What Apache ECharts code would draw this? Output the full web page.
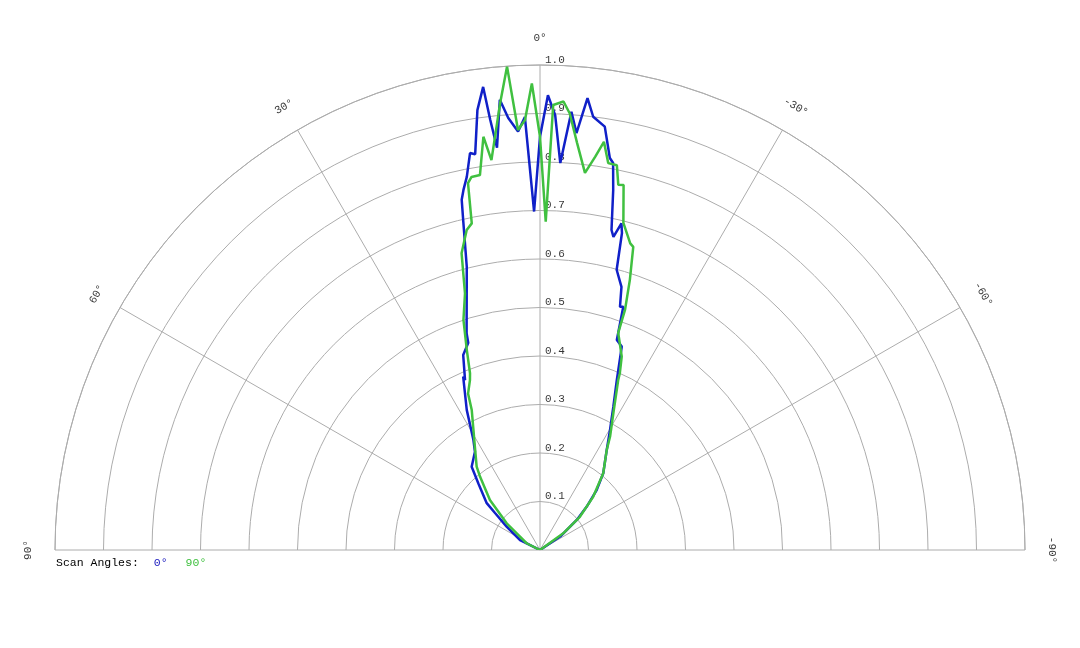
<!DOCTYPE html>
<html>
<head>
<meta charset="utf-8">
<script src="https://cdn.jsdelivr.net/npm/echarts@6/dist/echarts.min.js"></script>
<style>
  html, body { margin: 0; padding: 0; background: #fff; }
  #main { width: 1080px; height: 648px; }
</style>
</head>
<body>
<div id="main"></div>
<script>
// scan angle 0 (blue): angle in degrees (90 = left, -90 = right), relative value
var blueAngles = [90, 63.4, 55.0, 50.6, 48.6, 42.8, 39.4, 33.5, 31.2, 27.6, 23.9, 23.8, 21.5, 19.1, 18.7, 14.5, 13.1, 12.6, 12.0, 11.1, 10.0, 9.3, 8.1, 7.0, 6.6, 6.1, 5.1, 4.2, 3.0, 2.0, 1.0, 0, -1.0, -2.0, -3.0, -4.1, -5.0, -6.0, -7.0, -8.7, -10.1, -10.7, -11.5, -12.6, -13.2, -14.0, -14.5, -15.3, -17.2, -18.2, -18.9, -20.1, -21.9, -24.3, -27.1, -30.3, -33.7, -39.5, -43.4, -47.2, -50.7, -56.4, -90];
var blueR = [0, 0.046, 0.084, 0.120, 0.147, 0.187, 0.222, 0.243, 0.265, 0.326, 0.391, 0.383, 0.432, 0.452, 0.472, 0.603, 0.699, 0.740, 0.759, 0.784, 0.831, 0.827, 0.916, 0.962, 0.893, 0.834, 0.932, 0.893, 0.864, 0.893, 0.698, 0.852, 0.938, 0.897, 0.799, 0.906, 0.863, 0.937, 0.900, 0.883, 0.821, 0.812, 0.757, 0.676, 0.663, 0.694, 0.675, 0.599, 0.568, 0.528, 0.530, 0.461, 0.452, 0.385, 0.332, 0.286, 0.248, 0.205, 0.170, 0.131, 0.098, 0.050, 0];

// scan angle 90 (green)
var greenAngles = [90, 63.3, 51.3, 45.0, 39.3, 37.2, 32.2, 26.0, 24.7, 22.4, 21.6, 20.1, 18.4, 16.3, 14.8, 12.9, 11.8, 11.1, 10.4, 9.1, 7.8, 7.1, 5.1, 3.9, 3.0, 2.0, 1.0, 0, -1.0, -1.7, -3.0, -3.9, -5.2, -6.8, -8.0, -8.9, -10.0, -11.3, -12.1, -12.9, -14.3, -16.4, -17.1, -18.4, -19.5, -19.8, -22.9, -24.3, -24.7, -28.2, -31.7, -33.7, -39.5, -45.0, -50.2, -54.4, -90];
var greenR = [0, 0.031, 0.088, 0.146, 0.195, 0.216, 0.252, 0.321, 0.355, 0.379, 0.392, 0.439, 0.500, 0.551, 0.633, 0.677, 0.688, 0.771, 0.782, 0.783, 0.860, 0.810, 0.925, 0.999, 0.867, 0.887, 0.962, 0.852, 0.677, 0.918, 0.926, 0.902, 0.843, 0.783, 0.819, 0.852, 0.810, 0.809, 0.770, 0.772, 0.696, 0.659, 0.654, 0.587, 0.525, 0.476, 0.433, 0.400, 0.386, 0.320, 0.275, 0.248, 0.205, 0.155, 0.107, 0.059, 0];

var angleTicks = [90, 60, 30, 0, -30, -60, -90];
var radiusTicks = [0.1, 0.2, 0.3, 0.4, 0.5, 0.6, 0.7, 0.8, 0.9, 1.0];

var FONT = '"Liberation Mono", "DejaVu Sans Mono", monospace';
var GRID = '#acacac';

function pairs(angles, rs) {
    var out = [];
    for (var i = 0; i < angles.length; i++) out.push([rs[i], angles[i]]);
    return out;
}

var myChart = echarts.init(document.getElementById('main'));

option = {
    animation: false,
    title: {
        left: 56,
        top: 557,
        padding: 0,
        text: '{a|Scan Angles:}{b|0°}{c|90°}',
        textStyle: {
            fontFamily: FONT,
            fontSize: 11.5,
            fontWeight: 'normal',
            rich: {
                a: { fontFamily: FONT, fontSize: 11.5, color: '#000' },
                b: { fontFamily: FONT, fontSize: 11.5, color: '#2020c0', padding: [0, 0, 0, 15] },
                c: { fontFamily: FONT, fontSize: 11.5, color: '#40c040', padding: [0, 0, 0, 18] }
            }
        }
    },
    polar: {
        center: [540, 550],
        radius: 485
    },
    angleAxis: {
        type: 'value',
        min: -90,
        max: 90,
        interval: 30,
        startAngle: 0,
        endAngle: 180,
        clockwise: false,
        axisLine: { show: true, lineStyle: { color: GRID, width: 1 } },
        axisTick: { show: false },
        axisLabel: { show: false },
        splitLine: { show: true, lineStyle: { color: GRID, width: 1 } }
    },
    radiusAxis: {
        type: 'value',
        min: 0,
        max: 1,
        interval: 0.1,
        axisLine: { show: false },
        axisTick: { show: false },
        axisLabel: { show: false },
        splitLine: { show: true, lineStyle: { color: GRID, width: 1 } }
    },
    series: [
        {
            // radius labels along the 0 deg line
            type: 'scatter',
            coordinateSystem: 'polar',
            symbolSize: 0,
            silent: true,
            z: 1,
            data: radiusTicks.map(function (v) { return [v, 0]; }),
            label: {
                show: true,
                position: 'right',
                distance: 5,
                offset: [0, -5],
                fontFamily: FONT,
                fontSize: 11,
                color: '#000',
                formatter: function (p) { return p.value[0].toFixed(1); }
            }
        },
        {
            // angle labels outside the arc
            type: 'scatter',
            coordinateSystem: 'polar',
            symbolSize: 0,
            silent: true,
            clip: false,
            z: 1,
            data: angleTicks.map(function (a) {
                return { value: [1.055, a], label: { rotate: a } };
            }),
            label: {
                show: true,
                position: 'inside',
                fontFamily: FONT,
                fontSize: 11,
                color: '#000',
                formatter: function (p) { return p.value[1] + '°'; }
            }
        },
        {
            name: '0°',
            type: 'line',
            coordinateSystem: 'polar',
            showSymbol: false,
            z: 3,
            data: pairs(blueAngles, blueR),
            lineStyle: { color: '#1020c8', width: 2.5 }
        },
        {
            name: '90°',
            type: 'line',
            coordinateSystem: 'polar',
            showSymbol: false,
            z: 4,
            data: pairs(greenAngles, greenR),
            lineStyle: { color: '#40c040', width: 2.5 }
        }
    ]
};

myChart.setOption(option);
</script>
</body>
</html>
